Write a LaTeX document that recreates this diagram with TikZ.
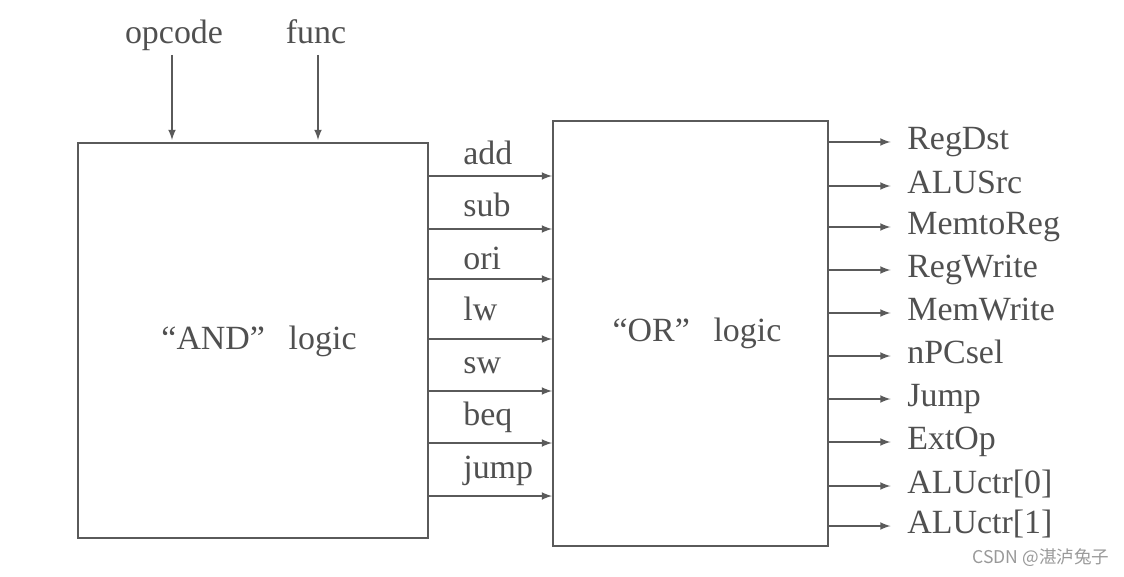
\documentclass[tikz,border=0pt]{standalone}
\usepackage{fontspec}
\setmainfont{Liberation Serif}
\newfontfamily\cjk{Noto Sans CJK SC}
\usetikzlibrary{positioning}

\definecolor{linegray}{HTML}{5A5A5A}
\definecolor{textgray}{HTML}{505050}

\tikzset{
  logicbox/.style={draw=linegray, line width=1.1pt, inner sep=0pt},
  sig/.style={text=textgray, font=\fontsize{19.3}{22}\selectfont, inner sep=0pt,
    text height=13pt, text depth=4pt},
  wire/.style={draw=linegray, line width=1pt, ->}
}

\begin{document}
\begin{tikzpicture}[>=latex, x=0.02cm, y=-0.02cm]
  \useasboundingbox (0,0) rectangle (1124,577);
  % the two logic blocks
  \node (andbox) [logicbox, minimum width=350*0.02cm, minimum height=395*0.02cm]
    at (253,340.5) {};
  \node (orbox) [logicbox, minimum width=275*0.02cm, minimum height=425*0.02cm]
    at (690.5,333.5) {};
  \node (andtxt) at (259,342) [sig] {“AND”\hspace{0.7em}logic};
  \node (ortxt) at (697,334) [sig] {“OR”\hspace{0.7em}logic};

  % inputs
  \node (opcode) at (174,36) [sig] {opcode};
  \node (func) at (316,36) [sig] {func};
  \draw [wire] (172,55) -- (172,140);
  \draw [wire] (318,55) -- (318,140);

  % instruction lines
  \foreach \name/\y/\ly in {add/176/157, sub/229/209, ori/279/262, lw/339/313,
      sw/391/366, beq/443/418, jump/496/471} {
    \draw [wire] (andbox.east |- 0,\y) -- (orbox.west |- 0,\y);
    \node (i-\name) at (463,\ly) [sig, anchor=west] {\name};
  }

  % control signals
  \foreach \name/\y in {RegDst/142, ALUSrc/186, MemtoReg/227, RegWrite/270,
      MemWrite/313, nPCsel/356, Jump/399, ExtOp/442, ALUctr[0]/486, ALUctr[1]/526} {
    \node (o-\y) at (907,\y) [sig, anchor=west] {\name};
    \draw [wire] (orbox.east |- o-\y.west) -- ([xshift=-0.33cm]o-\y.west);
  }

  \node (mark) at (1041,558) [text=gray!80, font=\cjk\fontsize{10}{12}\selectfont]
    {CSDN @湛泸兔子};
\end{tikzpicture}
\end{document}
